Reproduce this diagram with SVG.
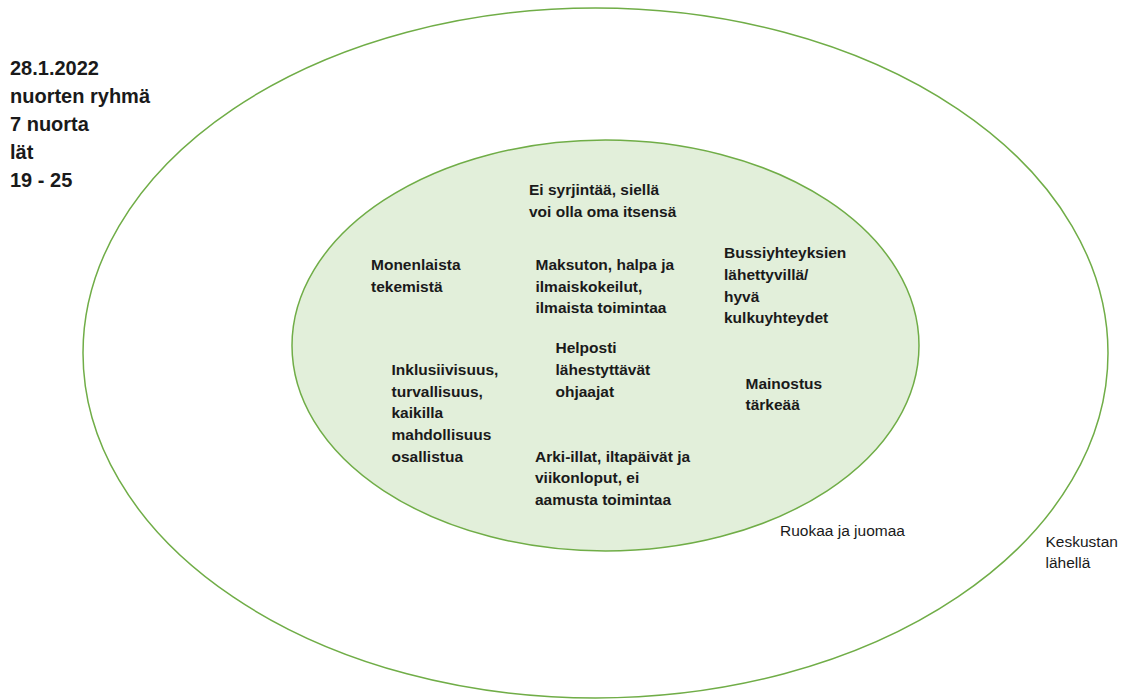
<svg xmlns="http://www.w3.org/2000/svg" width="1123" height="700" viewBox="0 0 1123 700">
<style>
.ring{stroke:#70AD47;stroke-width:1.5}
.t{font-family:"Liberation Sans",Arial,sans-serif;font-size:15.5px;font-weight:bold;fill:#1a1a1a}
.n{font-family:"Liberation Sans",Arial,sans-serif;font-size:15.5px;fill:#1a1a1a}
.h{font-family:"Liberation Sans",Arial,sans-serif;font-size:20px;font-weight:bold;fill:#1a1a1a}
</style>
<rect width="1123" height="700" fill="#ffffff"/>
<g id="outer-ring"><ellipse class="ring" cx="595.5" cy="353" rx="512.5" ry="345" fill="none"/></g>
<g id="inner-ring"><ellipse class="ring" cx="605.5" cy="345.5" rx="313.5" ry="205.5" fill="#E2EFDA"/></g>
<g id="connectors"></g>
<g id="header">
<text class="h" x="10" y="75">28.1.2022</text>
<text class="h" x="10" y="103">nuorten ryhmä</text>
<text class="h" x="10" y="131">7 nuorta</text>
<text class="h" x="10" y="159">lät</text>
<text class="h" x="10" y="187">19 - 25</text>
</g>
<g id="ei-syrjintaa">
<text class="t" x="529" y="195">Ei syrjintää, siellä</text>
<text class="t" x="529" y="217">voi olla oma itsensä</text>
</g>
<g id="monenlaista">
<text class="t" x="371" y="270">Monenlaista</text>
<text class="t" x="371" y="291.5">tekemistä</text>
</g>
<g id="maksuton">
<text class="t" x="535.5" y="270">Maksuton, halpa ja</text>
<text class="t" x="535.5" y="291.5">ilmaiskokeilut,</text>
<text class="t" x="535.5" y="313">ilmaista toimintaa</text>
</g>
<g id="bussiyhteyksien">
<text class="t" x="724" y="258">Bussiyhteyksien</text>
<text class="t" x="724" y="280">lähettyvillä/</text>
<text class="t" x="724" y="301.5">hyvä</text>
<text class="t" x="724" y="323">kulkuyhteydet</text>
</g>
<g id="helposti">
<text class="t" x="555.5" y="353">Helposti</text>
<text class="t" x="555.5" y="375">lähestyttävät</text>
<text class="t" x="555.5" y="396.5">ohjaajat</text>
</g>
<g id="inklusiivisuus">
<text class="t" x="391.5" y="375">Inklusiivisuus,</text>
<text class="t" x="391.5" y="396.5">turvallisuus,</text>
<text class="t" x="391.5" y="418">kaikilla</text>
<text class="t" x="391.5" y="440">mahdollisuus</text>
<text class="t" x="391.5" y="461.5">osallistua</text>
</g>
<g id="mainostus">
<text class="t" x="745.5" y="389">Mainostus</text>
<text class="t" x="745.5" y="410">tärkeää</text>
</g>
<g id="arki-illat">
<text class="t" x="535" y="461.5">Arki-illat, iltapäivät ja</text>
<text class="t" x="535" y="483">viikonloput, ei</text>
<text class="t" x="535" y="505">aamusta toimintaa</text>
</g>
<g id="ruokaa">
<text class="n" x="780" y="536">Ruokaa ja juomaa</text>
</g>
<g id="keskustan">
<text class="n" x="1045.5" y="547">Keskustan</text>
<text class="n" x="1045.5" y="568">lähellä</text>
</g>
</svg>
